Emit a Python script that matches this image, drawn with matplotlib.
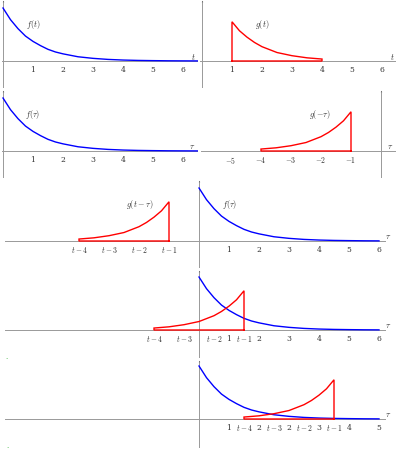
import numpy as np
import matplotlib
matplotlib.use("Agg")
import matplotlib.pyplot as plt

plt.rcParams["mathtext.fontset"] = "cm"
plt.rcParams["font.family"] = "DejaVu Serif"

# f(t) (decaying curve, f(0) = 1)
f_t = [0, 0.25, 0.5, 0.75, 1, 1.25, 1.5, 1.75, 2, 2.5, 3, 3.5, 4, 4.5, 5, 5.5, 6, 6.5]
f_v = [1.0, 0.78, 0.61, 0.47, 0.37, 0.29, 0.22, 0.17, 0.135, 0.08, 0.05, 0.03,
       0.018, 0.011, 0.007, 0.004, 0.0025, 0.0015]

# g(t), non-zero on [1, 4]
g_t = [1, 1.25, 1.5, 1.75, 2, 2.5, 3, 3.5, 4]
g_v = [0.74, 0.57, 0.45, 0.35, 0.27, 0.16, 0.10, 0.06, 0.037]

# shift values t used in the three lower rows
t_shift = [0, 2.5, 5.5]

num_ticks = [1, 2, 3, 4, 5, 6]
num_labels_row5 = ["1", "2", "2", "3", "4", "5"]   # as printed in the original
neg_ticks = [-5, -4, -3, -2, -1]
t_offsets = [4, 3, 2, 1]

W, H = 399, 452
SX, SY = 30.0, 53.0
BLUE, RED, GRAY = "#0000ff", "#ff0000", "#999999"
FS = 5.5

fig = plt.figure(figsize=(W / 100, H / 100), dpi=100)
fig.patch.set_facecolor("white")


def panel(x0, x1, ytop, ybot, ox, oy):
    ax = fig.add_axes([x0 / W, 1 - ybot / H, (x1 - x0) / W, (ybot - ytop) / H])
    ax.set_xlim((x0 - ox) / SX, (x1 - ox) / SX)
    ax.set_ylim((oy - ybot) / SY, (oy - ytop) / SY)
    ax.axis("off")
    ax.axhline(0, color=GRAY, lw=0.7, zorder=1)
    ax.axvline(0, color=GRAY, lw=0.7, zorder=1)
    ax.plot(0, 0.995, "^", transform=ax.get_xaxis_transform(), ms=1.1,
            color="#666666", mew=0, clip_on=False)
    return ax


def ticks(ax, pos, labels):
    for p, lab in zip(pos, labels):
        ax.text(p, -8 / SY, lab, ha="center", va="center", fontsize=FS,
                color="#333333")


def red_shape(ax, xs, ys):
    xs = np.asarray(xs, float)
    ys = np.asarray(ys, float)
    px = np.concatenate([[xs[0]], xs, [xs[-1], xs[0]]])
    py = np.concatenate([[0], ys, [0, 0]])
    ax.plot(px, py, color=RED, lw=1.0, zorder=3, solid_joinstyle="miter")


def label(ax, x, y, s):
    ax.text(x, y, s, ha="center", va="center", fontsize=FS + 0.5, color="#333333")


fx = np.array(f_t)
fy = np.array(f_v)
gx = np.array(g_t)
gy = np.array(g_v)

# ---- row 1 left: f(t)
ax = panel(2, 198, 2, 89, 3, 62)
ax.plot(fx, fy, color=BLUE, lw=1.0, zorder=2)
ticks(ax, num_ticks, [str(n) for n in num_ticks])
label(ax, 1.0, 0.7, r"$f(t)$")
label(ax, 6.33, 0.09, r"$t$")

# ---- row 1 right: g(t)
ax = panel(200, 396, 2, 89, 202, 62)
red_shape(ax, gx, gy)
ticks(ax, num_ticks, [str(n) for n in num_ticks])
label(ax, 2.0, 0.7, r"$g(t)$")
label(ax, 6.33, 0.09, r"$t$")

# ---- row 2 left: f(tau)
ax = panel(2, 198, 92, 179, 3, 152)
ax.plot(fx, fy, color=BLUE, lw=1.0, zorder=2)
ticks(ax, num_ticks, [str(n) for n in num_ticks])
label(ax, 1.0, 0.7, r"$f(\tau)$")
label(ax, 6.3, 0.09, r"$\tau$")

# ---- row 2 right: g(-tau)
ax = panel(201, 396, 92, 179, 381, 152)
red_shape(ax, -gx, gy)
ticks(ax, neg_ticks, [r"$-%d$" % -n for n in neg_ticks])
label(ax, -2.03, 0.7, r"$g(-\tau)$")
label(ax, 0.3, 0.09, r"$\tau$")

# ---- rows 3-5: g(t - tau) slid along
rows = [(182, 269, 242), (272, 359, 331), (362, 449, 420)]
for i, (ytop, ybot, oy) in enumerate(rows):
    t = t_shift[i]
    ax = panel(5, 386, ytop, ybot, 199, oy)
    m = fx <= 6
    ax.plot(fx[m], fy[m], color=BLUE, lw=1.0, zorder=2)
    red_shape(ax, t - gx, gy)
    nlabels = num_labels_row5 if i == 2 else [str(n) for n in num_ticks]
    ticks(ax, num_ticks, nlabels)
    ticks(ax, [t - k for k in t_offsets], [r"$t-%d$" % k for k in t_offsets])
    label(ax, 6.3, 0.09, r"$\tau$")
    if i == 0:
        label(ax, 1.03, 0.7, r"$f(\tau)$")
        label(ax, -1.97, 0.7, r"$g(t-\tau)$")

# small green marks in the left margin of the original
fig.text(6 / W, 1 - 357 / H, ".", color="#22aa22", fontsize=5, ha="center", va="center")
fig.text(7 / W, 1 - 446 / H, ".", color="#22aa22", fontsize=5, ha="center", va="center")

fig.savefig("out.png", dpi=100, facecolor="white")
